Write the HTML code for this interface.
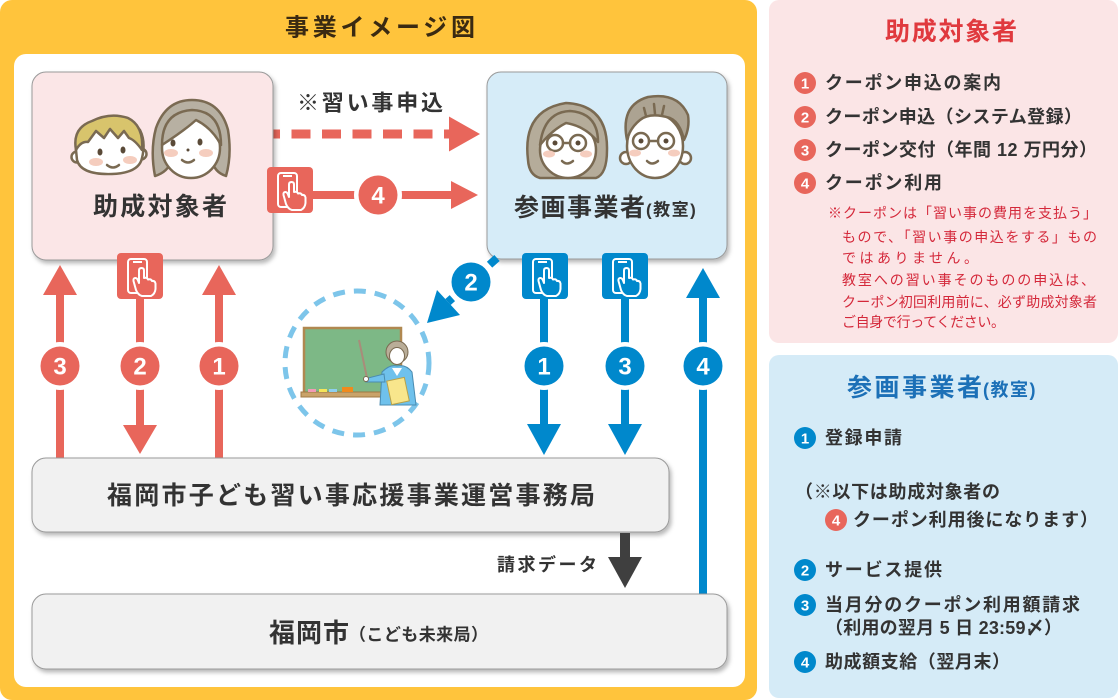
<!DOCTYPE html>
<html><head><meta charset="utf-8">
<style>
html,body{margin:0;padding:0;background:#fff;}
svg{display:block;}
text{font-family:"Liberation Sans","Noto Sans CJK JP",sans-serif;font-weight:bold;}
.n{font-family:"Liberation Sans",sans-serif;font-weight:bold;fill:#fff;}
</style></head><body>
<svg width="1120" height="700" viewBox="0 0 1120 700" xmlns="http://www.w3.org/2000/svg">
<defs>
<filter id="sh" x="-10%" y="-10%" width="130%" height="140%">
<feDropShadow dx="2" dy="3" stdDeviation="2" flood-color="#000" flood-opacity="0.28"/>
</filter>
</defs>

<!-- orange frame -->
<rect x="0" y="0" width="757" height="700" rx="12" fill="#FFC43C"/>
<rect x="14" y="54" width="731" height="633" rx="12" fill="#fff"/>
<text x="285" y="28" font-size="24" fill="#3A2A12" dominant-baseline="central" textLength="190" lengthAdjust="spacing">事業イメージ図</text>

<!-- dashed red arrow -->
<line x1="261" y1="134" x2="449" y2="134" stroke="#E8665B" stroke-width="9" stroke-dasharray="19 11.5"/>
<polygon points="449,116.5 480,134 449,151.5" fill="#E8665B"/>
<text x="297" y="103" font-size="22" fill="#333" dominant-baseline="central" textLength="146" lengthAdjust="spacing">※習い事申込</text>

<!-- solid red arrow 4 -->
<line x1="310" y1="195" x2="453" y2="195" stroke="#E8665B" stroke-width="8"/>
<polygon points="451,181 478,195 451,209" fill="#E8665B"/>
<circle cx="378" cy="195" r="24" fill="#fff"/>
<circle cx="378" cy="195" r="19.5" fill="#E8665B"/>
<text class="n" x="378" y="196" font-size="24" text-anchor="middle" dominant-baseline="central">4</text>

<!-- 助成対象者 box -->
<rect x="32" y="72" width="241" height="188" rx="14" fill="#FBE6E7" stroke="#9A9A9A" stroke-width="1" filter="url(#sh)"/>
<text x="93" y="207" font-size="25" fill="#333" dominant-baseline="central" textLength="134" lengthAdjust="spacing">助成対象者</text>

<!-- boy -->
<g stroke="#7A6A52" stroke-width="2.5" stroke-linejoin="round" stroke-linecap="round">
<circle cx="77" cy="157" r="5.5" fill="#fff"/>
<circle cx="141" cy="154" r="5.5" fill="#fff"/>
<path d="M76 150 Q74 125 100 120 Q125 114 140 130 Q146 142 142 158 Q139 173 112 174 Q81 175 77 160 Z" fill="#fff"/>
<path d="M76 150 Q72 128 92 121 Q110 112 128 118 Q144 126 142 150 Q135 140 129 138 L124 131 L118 138 L110 129 L104 138 L96 131 L88 142 Q81 141 76 150 Z" fill="#D8C46C"/>
<path d="M107 165 Q113 170 119 165" fill="none"/>
</g>
<ellipse cx="100" cy="152" rx="2.5" ry="3.5" fill="#5A4A38"/>
<ellipse cx="123" cy="150" rx="2.5" ry="3.5" fill="#5A4A38"/>
<ellipse cx="96" cy="162" rx="7" ry="4" fill="#F5CDBE"/>
<ellipse cx="130" cy="160" rx="7" ry="4" fill="#F5CDBE"/>

<!-- girl -->
<g stroke="#7A6A52" stroke-width="2.5" stroke-linejoin="round" stroke-linecap="round">
<path d="M155 176 Q150 150 156 128 Q166 100 192 100 Q220 100 228 130 Q232 155 226 176 Q214 172 212 160 L172 160 Q168 172 155 176 Z" fill="#B7B0A2"/>
<ellipse cx="191" cy="148" rx="29" ry="30" fill="#fff"/>
<path d="M162 145 Q162 112 192 110 Q221 111 221 145 Q212 128 196 120 Q185 130 162 145 Z" fill="#B7B0A2"/>
<path d="M182 160 Q188 165 194 160" fill="none"/>
</g>
<ellipse cx="173" cy="143" rx="2.5" ry="3.5" fill="#5A4A38"/>
<ellipse cx="200" cy="142" rx="2.5" ry="3.5" fill="#5A4A38"/>
<circle cx="188" cy="150" r="1.5" fill="#5A4A38"/>
<ellipse cx="171" cy="153" rx="7" ry="4" fill="#F5CDBE"/>
<ellipse cx="206" cy="153" rx="7" ry="4" fill="#F5CDBE"/>

<!-- 参画事業者 box -->
<rect x="487" y="72" width="240" height="187" rx="14" fill="#D6ECF8" stroke="#9A9A9A" stroke-width="1" filter="url(#sh)"/>
<text x="514" y="208" font-size="25" fill="#333" dominant-baseline="central" textLength="131" lengthAdjust="spacing">参画事業者</text>
<text x="646" y="210" font-size="17" fill="#333" dominant-baseline="central" letter-spacing="1.5">(教室)</text>

<!-- woman with glasses -->
<g stroke="#7A6A52" stroke-width="2.5" stroke-linejoin="round" stroke-linecap="round">
<path d="M528 160 Q522 110 566 103 Q608 105 607 150 Q607 174 596 178 L540 178 Q529 175 528 160 Z" fill="#B5AC9A"/>
<ellipse cx="568" cy="150" rx="28" ry="28" fill="#fff"/>
<path d="M540 145 Q544 112 570 111 Q598 113 598 142 Q585 126 566 123 Q552 130 540 145 Z" fill="#B5AC9A"/>
<circle cx="555" cy="143" r="8" fill="none"/>
<circle cx="578" cy="143" r="8" fill="none"/>
<path d="M563 143 L570 143" fill="none"/>
<path d="M562 161 Q567 166 573 161" fill="none"/>
</g>
<circle cx="555" cy="143" r="2.5" fill="#5A4A38"/>
<circle cx="578" cy="143" r="2.5" fill="#5A4A38"/>
<ellipse cx="549" cy="154" rx="6" ry="3.5" fill="#F5CDBE"/>
<ellipse cx="586" cy="154" rx="6" ry="3.5" fill="#F5CDBE"/>

<!-- man with glasses -->
<g stroke="#7A6A52" stroke-width="2.5" stroke-linejoin="round" stroke-linecap="round">
<circle cx="626" cy="158" r="6" fill="#fff"/>
<circle cx="685" cy="158" r="6" fill="#fff"/>
<ellipse cx="655" cy="146" rx="28" ry="32" fill="#fff"/>
<path d="M627 140 Q620 105 648 97 Q678 92 688 115 Q690 128 684 140 Q680 122 670 118 Q650 112 640 120 Q630 128 627 140 Z" fill="#ACA392"/>
<path d="M644 108 L646 116 M654 104 L655 114 M664 106 L662 115" fill="none"/>
<circle cx="641" cy="141" r="8" fill="none"/>
<circle cx="666" cy="141" r="8" fill="none"/>
<path d="M649 141 L658 141" fill="none"/>
<path d="M647 161 Q652 166 658 161" fill="none"/>
</g>
<circle cx="641" cy="141" r="2.5" fill="#5A4A38"/>
<circle cx="666" cy="141" r="2.5" fill="#5A4A38"/>
<ellipse cx="635" cy="153" rx="6" ry="3.5" fill="#F5CDBE"/>
<ellipse cx="674" cy="153" rx="6" ry="3.5" fill="#F5CDBE"/>

<!-- red phone icon (arrow 4) -->
<g transform="translate(267,167)">
<rect width="46" height="46" rx="4" fill="#E8665B"/>
<rect x="11" y="6" width="19" height="34" rx="3" fill="none" stroke="#fff" stroke-width="2"/>
<path d="M16 9 h9" stroke="#fff" stroke-width="2"/>
<path d="M19 37 L16.5 28 Q16 25 18.5 25 Q20 25 21 27.5 L22 30 L22 17.5 Q22 15 24.5 15 Q27 15 27 17.5 L27 25 Q30 24 31 26.5 Q34 25.5 35 28 Q38 27.5 38.5 30.5 L38.5 36 Q38 41 34 43 L25 43 Q21 42 19 37 Z" fill="#E8665B" stroke="#fff" stroke-width="2" stroke-linejoin="round"/>
</g>

<!-- red vertical arrows -->
<line x1="60" y1="290" x2="60" y2="460" stroke="#E8665B" stroke-width="8"/>
<polygon points="43,295 60,265 77,295" fill="#E8665B"/>
<line x1="140" y1="299" x2="140" y2="428" stroke="#E8665B" stroke-width="8"/>
<polygon points="123,425 157,425 140,454" fill="#E8665B"/>
<line x1="219" y1="290" x2="219" y2="460" stroke="#E8665B" stroke-width="8"/>
<polygon points="202,295 219,265 236,295" fill="#E8665B"/>
<g transform="translate(117,253)">
<rect width="46" height="46" rx="4" fill="#E8665B"/>
<rect x="11" y="6" width="19" height="34" rx="3" fill="none" stroke="#fff" stroke-width="2"/>
<path d="M16 9 h9" stroke="#fff" stroke-width="2"/>
<path d="M19 37 L16.5 28 Q16 25 18.5 25 Q20 25 21 27.5 L22 30 L22 17.5 Q22 15 24.5 15 Q27 15 27 17.5 L27 25 Q30 24 31 26.5 Q34 25.5 35 28 Q38 27.5 38.5 30.5 L38.5 36 Q38 41 34 43 L25 43 Q21 42 19 37 Z" fill="#E8665B" stroke="#fff" stroke-width="2" stroke-linejoin="round"/>
</g>
<circle cx="60" cy="366" r="24" fill="#fff"/><circle cx="60" cy="366" r="19.5" fill="#E8665B"/>
<text class="n" x="60" y="367" font-size="24" text-anchor="middle" dominant-baseline="central">3</text>
<circle cx="140" cy="366" r="24" fill="#fff"/><circle cx="140" cy="366" r="19.5" fill="#E8665B"/>
<text class="n" x="140" y="367" font-size="24" text-anchor="middle" dominant-baseline="central">2</text>
<circle cx="219" cy="366" r="24" fill="#fff"/><circle cx="219" cy="366" r="19.5" fill="#E8665B"/>
<text class="n" x="219" y="367" font-size="24" text-anchor="middle" dominant-baseline="central">1</text>

<!-- teacher illustration -->
<circle cx="357" cy="363" r="72" fill="none" stroke="#7DC5EA" stroke-width="5" stroke-dasharray="12 9"/>
<rect x="304" y="328" width="97" height="66" fill="#7DB886" stroke="#B08850" stroke-width="2.5"/>
<rect x="301" y="392" width="104" height="5" fill="#C9A36A" stroke="#A07844" stroke-width="1"/>
<rect x="308" y="389" width="8" height="3" fill="#F29BB5"/>
<rect x="319" y="389" width="8" height="3" fill="#F5E55A"/>
<rect x="329" y="389" width="8" height="3" fill="#8ECFEF"/>
<rect x="342" y="387" width="11" height="5" fill="#F08A1C"/>
<line x1="359" y1="340" x2="367" y2="378" stroke="#A98C7A" stroke-width="2"/>
<path d="M380 405 L382 372 Q390 364 397 366 Q406 364 412 372 L416 405 Z" fill="#6FC1EC" stroke="#4A8BB0" stroke-width="1"/>
<path d="M384 374 L368 378 L366 382 L385 382 Z" fill="#6FC1EC" stroke="#4A8BB0" stroke-width="1"/>
<circle cx="366" cy="379" r="2.5" fill="#fff" stroke="#7A6A52" stroke-width="1"/>
<ellipse cx="397" cy="352" rx="11" ry="11" fill="#B9AD98" stroke="#7A6A52" stroke-width="1"/>
<ellipse cx="397" cy="356" rx="7.5" ry="8.5" fill="#fff" stroke="#7A6A52" stroke-width="1"/>
<path d="M392 368 L397 376 L402 368 Z" fill="#fff"/>
<rect x="389" y="379" width="18" height="24" fill="#F8E68C" stroke="#B8A24A" stroke-width="1" transform="rotate(-12 398 391)"/>

<!-- blue diagonal arrow 2 -->
<line x1="497" y1="258" x2="448" y2="302" stroke="#0088CC" stroke-width="8" stroke-dasharray="10 5"/>
<polygon points="437,290 460,315 427,323" fill="#0088CC"/>
<circle cx="471" cy="282" r="23" fill="#fff"/><circle cx="471" cy="282" r="19.5" fill="#0088CC"/>
<text class="n" x="471" y="283" font-size="24" text-anchor="middle" dominant-baseline="central">2</text>

<!-- blue vertical arrows -->
<line x1="544" y1="299" x2="544" y2="427" stroke="#0088CC" stroke-width="8"/>
<polygon points="527,424 561,424 544,455" fill="#0088CC"/>
<line x1="625" y1="299" x2="625" y2="427" stroke="#0088CC" stroke-width="8"/>
<polygon points="608,424 642,424 625,455" fill="#0088CC"/>
<line x1="703" y1="293" x2="703" y2="594" stroke="#0088CC" stroke-width="8"/>
<polygon points="686,298 703,268 720,298" fill="#0088CC"/>
<g transform="translate(522,253)">
<rect width="46" height="46" rx="4" fill="#0088CC"/>
<rect x="11" y="6" width="19" height="34" rx="3" fill="none" stroke="#fff" stroke-width="2"/>
<path d="M16 9 h9" stroke="#fff" stroke-width="2"/>
<path d="M19 37 L16.5 28 Q16 25 18.5 25 Q20 25 21 27.5 L22 30 L22 17.5 Q22 15 24.5 15 Q27 15 27 17.5 L27 25 Q30 24 31 26.5 Q34 25.5 35 28 Q38 27.5 38.5 30.5 L38.5 36 Q38 41 34 43 L25 43 Q21 42 19 37 Z" fill="#0088CC" stroke="#fff" stroke-width="2" stroke-linejoin="round"/>
</g>
<g transform="translate(602,253)">
<rect width="46" height="46" rx="4" fill="#0088CC"/>
<rect x="11" y="6" width="19" height="34" rx="3" fill="none" stroke="#fff" stroke-width="2"/>
<path d="M16 9 h9" stroke="#fff" stroke-width="2"/>
<path d="M19 37 L16.5 28 Q16 25 18.5 25 Q20 25 21 27.5 L22 30 L22 17.5 Q22 15 24.5 15 Q27 15 27 17.5 L27 25 Q30 24 31 26.5 Q34 25.5 35 28 Q38 27.5 38.5 30.5 L38.5 36 Q38 41 34 43 L25 43 Q21 42 19 37 Z" fill="#0088CC" stroke="#fff" stroke-width="2" stroke-linejoin="round"/>
</g>
<circle cx="544" cy="366" r="24" fill="#fff"/><circle cx="544" cy="366" r="19.5" fill="#0088CC"/>
<text class="n" x="544" y="367" font-size="24" text-anchor="middle" dominant-baseline="central">1</text>
<circle cx="625" cy="366" r="24" fill="#fff"/><circle cx="625" cy="366" r="19.5" fill="#0088CC"/>
<text class="n" x="625" y="367" font-size="24" text-anchor="middle" dominant-baseline="central">3</text>
<circle cx="703" cy="366" r="24" fill="#fff"/><circle cx="703" cy="366" r="19.5" fill="#0088CC"/>
<text class="n" x="703" y="367" font-size="24" text-anchor="middle" dominant-baseline="central">4</text>

<!-- 事務局 box -->
<rect x="32" y="458" width="637" height="74" rx="14" fill="#F1F1F1" stroke="#9A9A9A" stroke-width="1" filter="url(#sh)"/>
<text x="107" y="496" font-size="25" fill="#333" dominant-baseline="central" textLength="488" lengthAdjust="spacing">福岡市子ども習い事応援事業運営事務局</text>

<!-- dark arrow -->
<rect x="620" y="533" width="10" height="26" fill="#3F3F3F"/>
<polygon points="608,557 642,557 625,588" fill="#3F3F3F"/>
<text x="497" y="565" font-size="18" fill="#333" dominant-baseline="central" textLength="100" lengthAdjust="spacing">請求データ</text>

<!-- 福岡市 box -->
<rect x="32" y="594" width="695" height="75" rx="14" fill="#F1F1F1" stroke="#9A9A9A" stroke-width="1" filter="url(#sh)"/>
<text x="269" y="633" font-size="26" fill="#333" dominant-baseline="central" textLength="80" lengthAdjust="spacing">福岡市</text>
<text x="349" y="635" font-size="17" fill="#333" dominant-baseline="central" textLength="139" lengthAdjust="spacing">（こども未来局）</text>

<!-- right pink panel -->
<rect x="769" y="0" width="349" height="343" rx="10" fill="#FBE5E6"/>
<text x="885" y="32" font-size="25" fill="#E0393E" dominant-baseline="central" textLength="132" lengthAdjust="spacing">助成対象者</text>
<g fill="#E8665B">
<circle cx="805" cy="83" r="11"/><circle cx="805" cy="117" r="11"/><circle cx="805" cy="150" r="11"/><circle cx="805" cy="183" r="11"/>
</g>
<text class="n" x="805" y="84" font-size="15" text-anchor="middle" dominant-baseline="central">1</text>
<text class="n" x="805" y="118" font-size="15" text-anchor="middle" dominant-baseline="central">2</text>
<text class="n" x="805" y="151" font-size="15" text-anchor="middle" dominant-baseline="central">3</text>
<text class="n" x="805" y="184" font-size="15" text-anchor="middle" dominant-baseline="central">4</text>
<g font-size="18" fill="#333">
<text x="825" y="83" dominant-baseline="central" textLength="176" lengthAdjust="spacing">クーポン申込の案内</text>
<text x="825" y="117" dominant-baseline="central" textLength="257" lengthAdjust="spacing">クーポン申込（システム登録）</text>
<text x="825" y="150" dominant-baseline="central" textLength="272" lengthAdjust="spacing">クーポン交付（年間 12 万円分）</text>
<text x="825" y="183" dominant-baseline="central" textLength="117" lengthAdjust="spacing">クーポン利用</text>
</g>
<g font-size="14" fill="#D4283A">
<text x="828" y="213" dominant-baseline="central" textLength="269" lengthAdjust="spacing" style="font-weight:normal">※クーポンは「習い事の費用を支払う」</text>
<text x="842" y="237" dominant-baseline="central" textLength="255" lengthAdjust="spacing" style="font-weight:normal">もので、「習い事の申込をする」もの</text>
<text x="842" y="258" dominant-baseline="central" textLength="136" lengthAdjust="spacing" style="font-weight:normal">ではありません。</text>
<text x="842" y="280" dominant-baseline="central" textLength="253" lengthAdjust="spacing" style="font-weight:normal">教室への習い事そのものの申込は、</text>
<text x="842" y="302" dominant-baseline="central" textLength="255" lengthAdjust="spacing" style="font-weight:normal">クーポン初回利用前に、必ず助成対象者</text>
<text x="842" y="322" dominant-baseline="central" textLength="163" lengthAdjust="spacing" style="font-weight:normal">ご自身で行ってください。</text>
</g>

<!-- right blue panel -->
<rect x="769" y="355" width="349" height="343" rx="10" fill="#D5EBF7"/>
<text x="847" y="388" font-size="25" fill="#1C70B7" dominant-baseline="central" textLength="135" lengthAdjust="spacing">参画事業者</text>
<text x="983" y="390" font-size="18" fill="#1C70B7" dominant-baseline="central" letter-spacing="1.5">(教室)</text>
<g fill="#0088CC">
<circle cx="805" cy="438" r="11"/><circle cx="805" cy="570" r="11"/><circle cx="805" cy="605" r="11"/><circle cx="805" cy="662" r="11"/>
</g>
<circle cx="836" cy="520" r="11" fill="#E8665B"/>
<text class="n" x="805" y="439" font-size="15" text-anchor="middle" dominant-baseline="central">1</text>
<text class="n" x="836" y="521" font-size="15" text-anchor="middle" dominant-baseline="central">4</text>
<text class="n" x="805" y="571" font-size="15" text-anchor="middle" dominant-baseline="central">2</text>
<text class="n" x="805" y="606" font-size="15" text-anchor="middle" dominant-baseline="central">3</text>
<text class="n" x="805" y="663" font-size="15" text-anchor="middle" dominant-baseline="central">4</text>
<g font-size="18" fill="#333">
<text x="825" y="438" dominant-baseline="central" textLength="77" lengthAdjust="spacing">登録申請</text>
<text x="795" y="492" dominant-baseline="central" textLength="205" lengthAdjust="spacing">（※以下は助成対象者の</text>
<text x="853" y="520" dominant-baseline="central" textLength="245" lengthAdjust="spacing">クーポン利用後になります）</text>
<text x="825" y="570" dominant-baseline="central" textLength="117" lengthAdjust="spacing">サービス提供</text>
<text x="825" y="605" dominant-baseline="central" textLength="255" lengthAdjust="spacing">当月分のクーポン利用額請求</text>
<text x="825" y="628" dominant-baseline="central" textLength="237" lengthAdjust="spacing">（利用の翌月 5 日 23:59〆）</text>
<text x="825" y="662" dominant-baseline="central" textLength="185" lengthAdjust="spacing">助成額支給（翌月末）</text>
</g>
</svg>
</body></html>
